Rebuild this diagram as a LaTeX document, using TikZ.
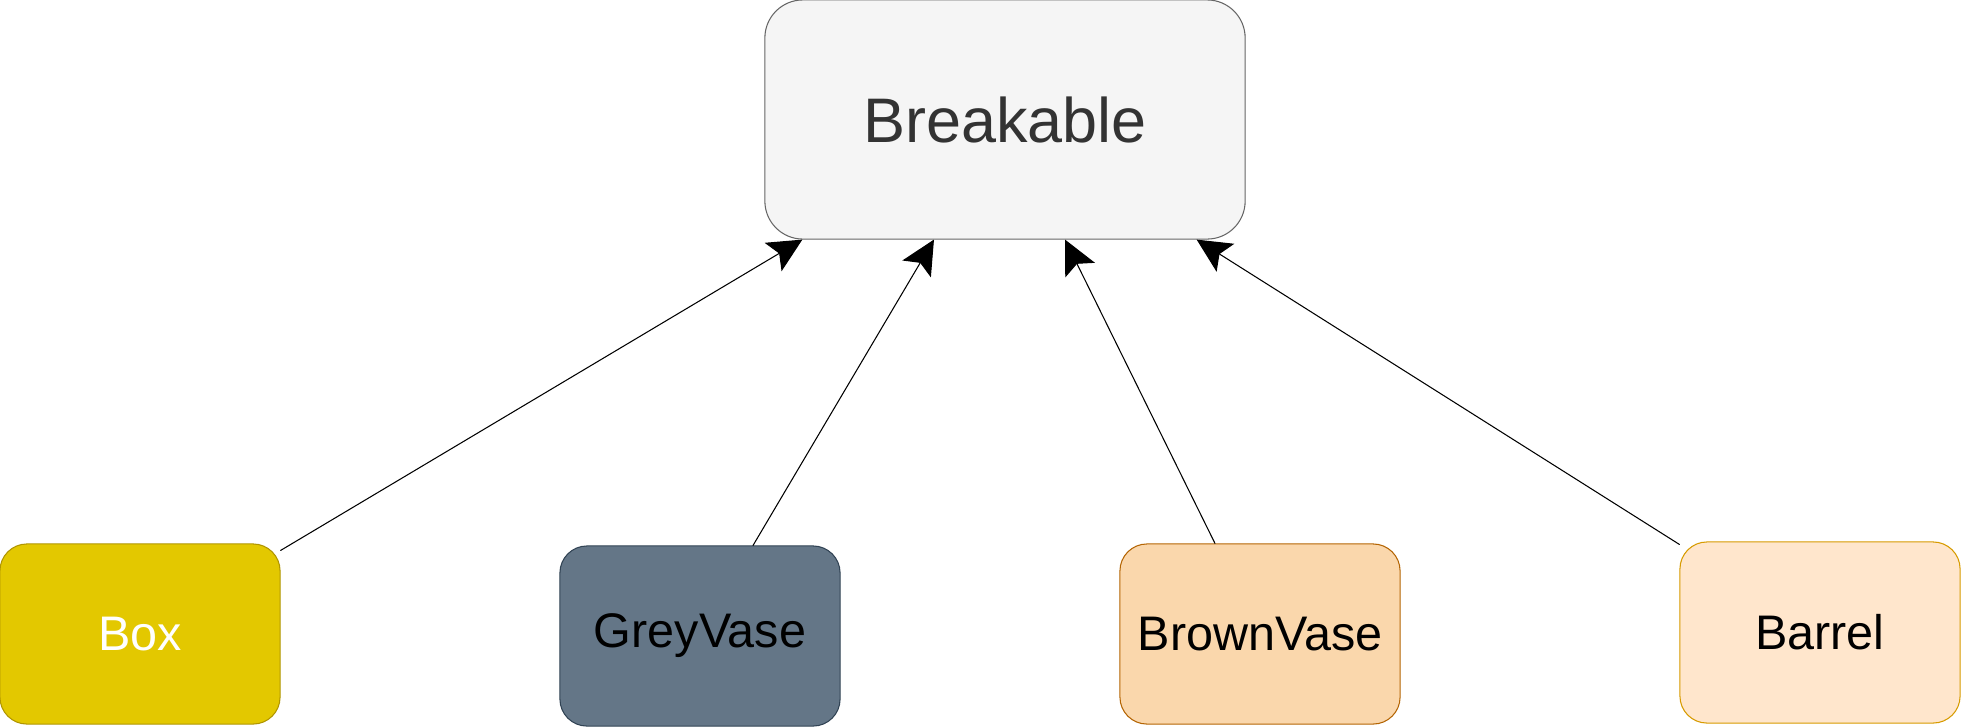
\documentclass[tikz,border=0pt]{standalone}
\usepackage{fontspec}
\setmainfont{Liberation Sans}
\usetikzlibrary{arrows.meta}
\definecolor{brkfill}{HTML}{F5F5F5}
\definecolor{brkline}{HTML}{666666}
\definecolor{brktext}{HTML}{333333}
\definecolor{boxfill}{HTML}{E3C800}
\definecolor{boxline}{HTML}{B09500}
\definecolor{greyfill}{HTML}{647687}
\definecolor{greyline}{HTML}{314354}
\definecolor{brownfill}{HTML}{FAD7AC}
\definecolor{brownline}{HTML}{B46504}
\definecolor{barrelfill}{HTML}{FFE6CC}
\definecolor{barrelline}{HTML}{D79B00}
\begin{document}
\begin{tikzpicture}[x=0.01cm, y=-0.01cm, line cap=round, line join=round,
		>={Stealth[length=0.34cm,width=0.33cm,inset=0.07cm]},
		cls/.style={draw, rounded corners=0.27cm, line width=0.3pt, minimum width=2.8cm, minimum height=1.8cm, inner sep=0pt, font=\fontsize{13.8}{16}\selectfont},
		inherit/.style={->, line width=0.3pt}]
	\useasboundingbox (0,0) rectangle (1961,727);
	\node[cls, rounded corners=0.38cm, minimum width=4.8cm, minimum height=2.39cm, fill=brkfill, draw=brkline, text=brktext, font=\fontsize{17.9}{21}\selectfont] (brk) at (1005,119.5) {Breakable};
	\node[cls, fill=boxfill, draw=boxline, text=white] (box) at (140,634) {Box};
	\node[cls, fill=greyfill, draw=greyline] (grey) at (700,636) {GreyVase};
	\node[cls, fill=brownfill, draw=brownline] (brown) at (1260,634) {BrownVase};
	\node[cls, minimum height=1.81cm, fill=barrelfill, draw=barrelline] (barrel) at (1820,632.5) {Barrel};
	\draw[inherit] ([yshift=-0.07cm]box.north east) -- ([xshift=0.38cm]brk.south west);
	\draw[inherit] ([xshift=0.53cm]grey.north) -- ([xshift=-0.71cm]brk.south);
	\draw[inherit] ([xshift=-0.45cm]brown.north) -- ([xshift=0.60cm]brk.south);
	\draw[inherit] ([yshift=-0.03cm]barrel.north west) -- ([xshift=-0.49cm]brk.south east);
\end{tikzpicture}
\end{document}
